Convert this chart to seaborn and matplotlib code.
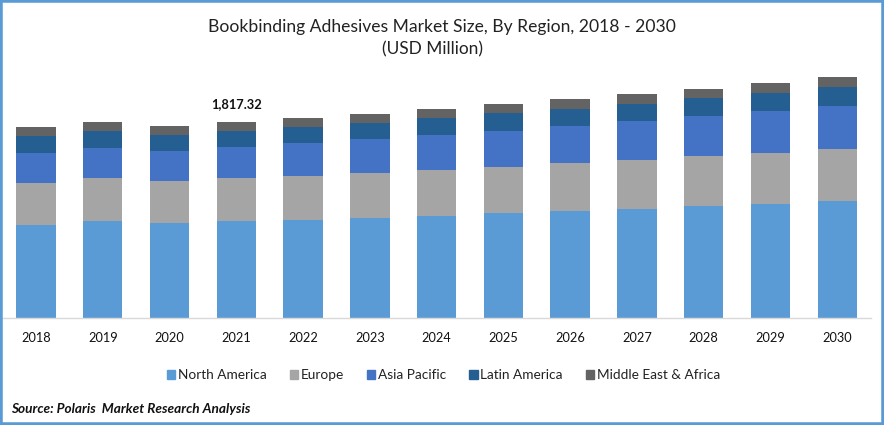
import matplotlib
matplotlib.use("Agg")
import matplotlib.pyplot as plt
from matplotlib.patches import Rectangle
import pandas as pd
import seaborn as sns

years = ["2018", "2019", "2020", "2021", "2022", "2023", "2024", "2025", "2026", "2027", "2028", "2029", "2030"]
north_america = [862, 899, 881, 899, 908, 927, 946, 973, 992, 1010, 1038, 1057, 1085]
europe = [389, 399, 389, 399, 408, 417, 426, 426, 445, 454, 464, 473, 482]
asia_pacific = [278, 278, 278, 287, 306, 315, 324, 334, 343, 362, 371, 389, 399]
latin_america = [158, 158, 148, 148, 148, 148, 158, 167, 158, 158, 167, 167, 176]
middle_east_africa = [83, 83, 83, 83, 83, 83, 83, 83, 93, 93, 83, 93, 93]

regions = ["North America", "Europe", "Asia Pacific", "Latin America", "Middle East & Africa"]
colors = ["#5B9BD5", "#A5A5A5", "#4472C4", "#255E91", "#636363"]

W, H = 884, 425

sns.set_theme(style="white")
plt.rcParams["font.family"] = ["Lato", "DejaVu Sans"]

data = pd.DataFrame(
    {
        "year": years,
        "North America": north_america,
        "Europe": europe,
        "Asia Pacific": asia_pacific,
        "Latin America": latin_america,
        "Middle East & Africa": middle_east_africa,
    }
)

fig = plt.figure(figsize=(W / 100, H / 100), dpi=100)
ax = fig.add_axes([2.6 / W, (H - 318) / H, 868 / W, 258 / H])

# stack the regions one by one
bottom = pd.Series([0] * len(years))
for region, color in zip(regions, colors):
    sns.barplot(data=data, x="year", y=region, bottom=bottom, color=color, width=0.59,
                saturation=1, linewidth=0, ax=ax, label=region, legend=False)
    bottom = bottom + data[region]

ax.set_xlim(-0.5, 12.5)
ax.set_ylim(0, 2392)
ax.set_xlabel("")
ax.set_ylabel("")
ax.set_yticks([])
ax.tick_params(axis="x", length=0, pad=10, labelsize=9.2, labelcolor="#111111")
sns.despine(ax=ax, left=True)
ax.spines["bottom"].set_color("#D9D9D9")
ax.spines["bottom"].set_linewidth(1)

ax.text(3, bottom[3] + 116, "1,817.32", ha="center", va="bottom", fontsize=9.3,
        fontweight="bold", color="#111111")

fig.text(442 / W, 1 - 27 / H, "Bookbinding Adhesives Market Size, By Region, 2018 - 2030",
         ha="center", va="center", fontsize=12.6, color="#222222")
fig.text(433 / W, 1 - 49 / H, "(USD Million)", ha="center", va="center", fontsize=12.4, color="#222222")

handles = [Rectangle((0, 0), 1, 1, color=c) for c in colors]
fig.legend(handles, regions, loc="center", bbox_to_anchor=(443.5 / W, 1 - 375 / H), ncol=5, frameon=False,
           fontsize=9.8, handlelength=0.6, handleheight=0.6, handletextpad=0.2, columnspacing=1.7,
           labelcolor="#222222")

fig.text(11 / W, 1 - 409 / H, "Source: Polaris  Market Research Analysis", ha="left", va="center",
         fontsize=9.8, fontweight="bold", fontstyle="italic", color="#111111")

# blue frame around the picture
fig.add_artist(Rectangle((0, 0), 1, 1, transform=fig.transFigure, fill=False, edgecolor="#5B9BD5", linewidth=4))

fig.savefig("out.png", dpi=100)
